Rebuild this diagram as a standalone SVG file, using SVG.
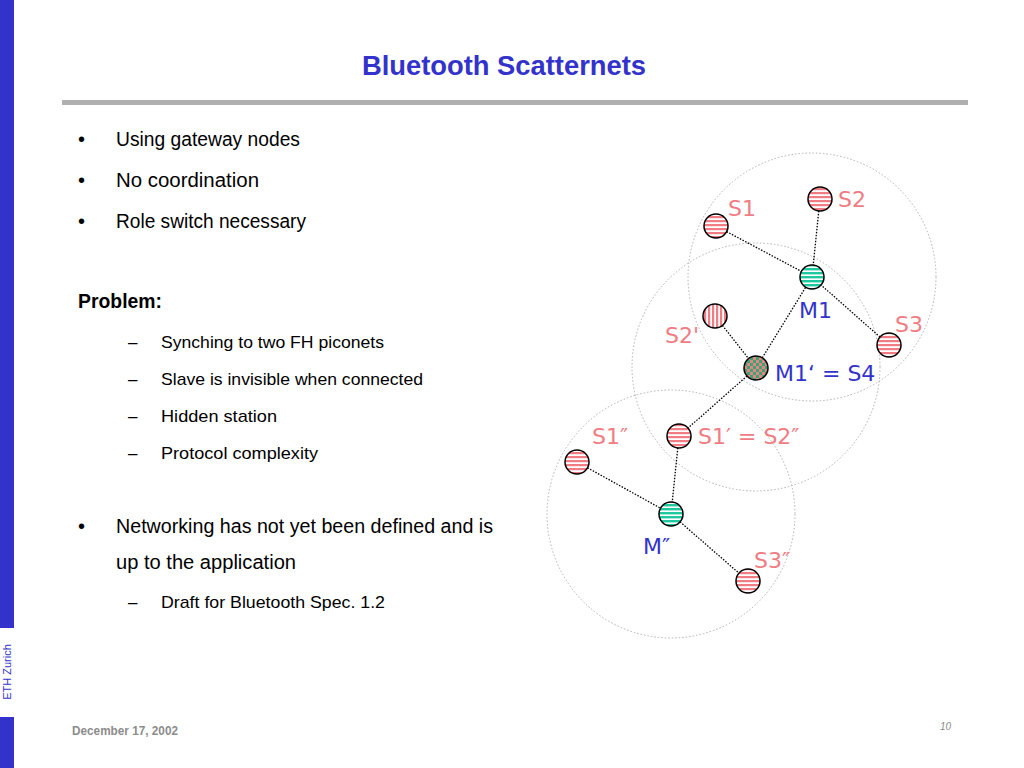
<svg xmlns="http://www.w3.org/2000/svg" width="1024" height="768" viewBox="0 0 1024 768">
<style>
.body{font-family:"Liberation Sans",Arial,sans-serif;fill:#000}
.b{font-size:20px}
.s{font-size:17px}
.lbl{font-family:"DejaVu Sans",Verdana,sans-serif;font-size:22px}
.pink{fill:#f07c84}
.blue{fill:#3333cc}
.range{fill:none;stroke:#b0b0b0;stroke-width:1;stroke-dasharray:1.5 2}
.link{stroke:#000;stroke-width:1.3;stroke-dasharray:1.5 1.5;fill:none}
.node{stroke:#000;stroke-width:1.5}
</style>
<defs>
<pattern id="ph" width="4" height="4" patternUnits="userSpaceOnUse">
<rect width="4" height="4" fill="#fff"/><rect width="4" height="2.2" fill="#f07c84"/>
</pattern>
<pattern id="pv" width="4" height="4" patternUnits="userSpaceOnUse">
<rect width="4" height="4" fill="#fff"/><rect width="2.2" height="4" fill="#f07c84"/>
</pattern>
<pattern id="gh" width="4" height="4" patternUnits="userSpaceOnUse">
<rect width="4" height="4" fill="#fff"/><rect width="4" height="2.4" fill="#20c8a0"/>
</pattern>
<pattern id="ck" width="6" height="6" patternUnits="userSpaceOnUse">
<rect width="6" height="6" fill="#30a878"/><rect width="3" height="3" fill="#f08080"/><rect x="3" y="3" width="3" height="3" fill="#f08080"/>
</pattern>
</defs>
<rect width="1024" height="768" fill="#fff"/>
<rect x="0" y="0" width="14" height="628" fill="#3333cc"/>
<rect x="0" y="717" width="14" height="51" fill="#3333cc"/>
<text transform="translate(11,672) rotate(-90)" text-anchor="middle" font-family="Liberation Sans,Arial,sans-serif" font-size="11" fill="#3333cc">ETH Zurich</text>
<text x="504" y="75" text-anchor="middle" font-family="Liberation Sans,Arial,sans-serif" font-size="28" font-weight="bold" fill="#3333cc" textLength="284" lengthAdjust="spacingAndGlyphs">Bluetooth Scatternets</text>
<rect x="62" y="100" width="906" height="5" fill="#b0b0b0"/>

<g class="body">
<text class="b" x="78" y="146">•</text><text class="b" x="116" y="146" textLength="184" lengthAdjust="spacingAndGlyphs">Using gateway nodes</text>
<text class="b" x="78" y="187">•</text><text class="b" x="116" y="187" textLength="143" lengthAdjust="spacingAndGlyphs">No coordination</text>
<text class="b" x="78" y="228">•</text><text class="b" x="116" y="228" textLength="190" lengthAdjust="spacingAndGlyphs">Role switch necessary</text>
<text class="b" x="78" y="308" font-weight="bold" textLength="84" lengthAdjust="spacingAndGlyphs">Problem:</text>
<text class="s" x="128" y="348">–</text><text class="s" x="161" y="348" textLength="223" lengthAdjust="spacingAndGlyphs">Synching to two FH piconets</text>
<text class="s" x="128" y="385">–</text><text class="s" x="161" y="385" textLength="262" lengthAdjust="spacingAndGlyphs">Slave is invisible when connected</text>
<text class="s" x="128" y="422">–</text><text class="s" x="161" y="422" textLength="116" lengthAdjust="spacingAndGlyphs">Hidden station</text>
<text class="s" x="128" y="459">–</text><text class="s" x="161" y="459" textLength="157" lengthAdjust="spacingAndGlyphs">Protocol complexity</text>
<text class="b" x="78" y="533">•</text><text class="b" x="116" y="533" textLength="377" lengthAdjust="spacingAndGlyphs">Networking has not yet been defined and is</text>
<text class="b" x="116" y="569" textLength="180" lengthAdjust="spacingAndGlyphs">up to the application</text>
<text class="s" x="128" y="608">–</text><text class="s" x="161" y="608" textLength="224" lengthAdjust="spacingAndGlyphs">Draft for Bluetooth Spec. 1.2</text>
</g>

<text x="72" y="735" font-family="Liberation Sans,Arial,sans-serif" font-size="12" font-weight="bold" fill="#8c8c8c" textLength="106" lengthAdjust="spacingAndGlyphs">December 17, 2002</text>
<text x="940" y="730" font-family="Liberation Sans,Arial,sans-serif" font-size="10" font-style="italic" fill="#8c8c8c">10</text>

<g id="ranges">
<circle class="range" cx="812" cy="277" r="124"/>
<circle class="range" cx="756" cy="367" r="124"/>
<circle class="range" cx="671" cy="514" r="124"/>
</g>

<g id="connectors">
<line class="link" x1="716" y1="226" x2="812" y2="277"/>
<line class="link" x1="820" y1="199" x2="812" y2="277"/>
<line class="link" x1="889" y1="345" x2="812" y2="277"/>
<line class="link" x1="756" y1="368" x2="812" y2="277"/>
<line class="link" x1="715" y1="316" x2="756" y2="368"/>
<line class="link" x1="756" y1="368" x2="679" y2="436"/>
<line class="link" x1="679" y1="436" x2="671" y2="514"/>
<line class="link" x1="577" y1="462" x2="671" y2="514"/>
<line class="link" x1="671" y1="514" x2="748" y2="581"/>
</g>

<g id="S1"><circle class="node" cx="716" cy="226" r="12" fill="url(#ph)"/><text class="lbl pink" x="728" y="216">S1</text></g>
<g id="S2"><circle class="node" cx="820" cy="199" r="12" fill="url(#ph)"/><text class="lbl pink" x="838" y="207">S2</text></g>
<g id="M1"><circle class="node" cx="812" cy="277" r="12" fill="url(#gh)"/><text class="lbl blue" x="799" y="318">M1</text></g>
<g id="S3"><circle class="node" cx="889" cy="345" r="12" fill="url(#ph)"/><text class="lbl pink" x="895" y="332">S3</text></g>
<g id="S2p"><circle class="node" cx="715" cy="316" r="12" fill="url(#pv)"/><text class="lbl pink" x="665" y="343">S2'</text></g>
<g id="M1p"><circle class="node" cx="756" cy="368" r="12" fill="url(#ck)"/><text class="lbl blue" x="775" y="381">M1‘ = S4</text></g>
<g id="S1p"><circle class="node" cx="679" cy="436" r="12" fill="url(#ph)"/><text class="lbl pink" x="698" y="444">S1′ = S2″</text></g>
<g id="S1pp"><circle class="node" cx="577" cy="462" r="12" fill="url(#ph)"/><text class="lbl pink" x="592" y="444">S1″</text></g>
<g id="Mpp"><circle class="node" cx="671" cy="514" r="12" fill="url(#gh)"/><text class="lbl blue" x="643" y="554">M″</text></g>
<g id="S3pp"><circle class="node" cx="748" cy="581" r="12" fill="url(#ph)"/><text class="lbl pink" x="754" y="568">S3″</text></g>
</svg>
